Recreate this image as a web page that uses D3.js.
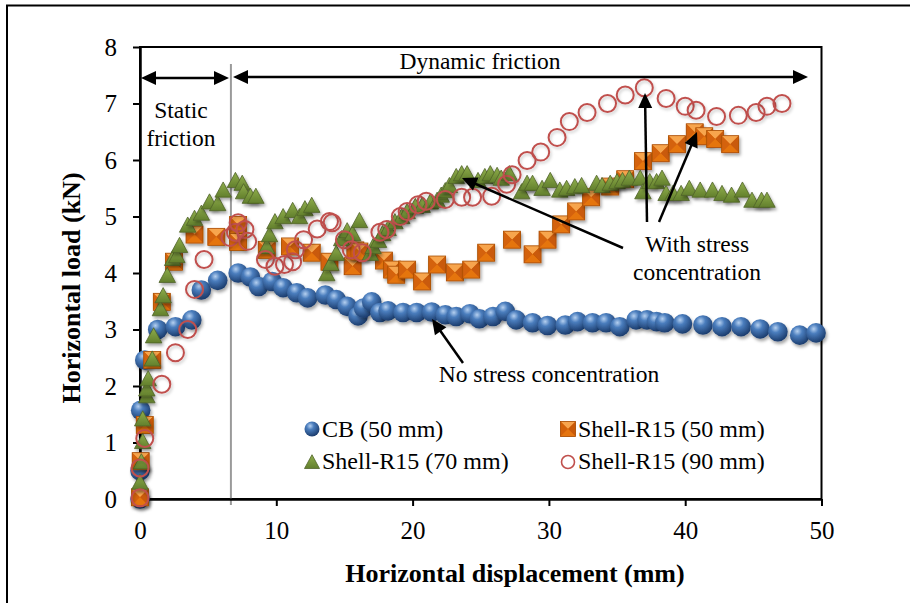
<!DOCTYPE html>
<html><head><meta charset="utf-8">
<script src="https://cdn.jsdelivr.net/npm/d3@7"></script>
<style>
html,body{margin:0;padding:0;background:#fff;}
text{font-family:"Liberation Serif","Times New Roman",serif;}
</style></head>
<body><svg id="c" width="910" height="603"></svg>
<script>
// ---- data ----
const xTicks = [0, 10, 20, 30, 40, 50];
const yTicks = [0, 1, 2, 3, 4, 5, 6, 7, 8];
const seriesNames = ["CB (50 mm)", "Shell-R15 (50 mm)", "Shell-R15 (70 mm)", "Shell-R15 (90 mm)"];

const cbX = [0,0,0.05,0.35,1.3,2.6,3.8,4.5,5.7,7.2,8.1,8.7,9.7,10.5,11.5,12.3,13.6,14.4,15.2,16.0,16.4,17.0,17.6,18.2,19.3,20.3,21.4,22.4,23.2,24.2,24.9,25.9,26.8,27.6,28.8,29.9,31.2,32.1,33.2,34.2,35.2,36.4,37.2,37.9,38.5,39.8,41.3,42.7,44.1,45.5,46.8,48.4,49.6];
const cbY = [0,0.5,1.57,2.46,3.0,3.05,3.17,3.7,3.87,4.0,3.93,3.76,3.85,3.74,3.65,3.56,3.61,3.53,3.41,3.24,3.38,3.49,3.3,3.33,3.3,3.3,3.31,3.26,3.23,3.28,3.19,3.23,3.32,3.17,3.12,3.07,3.08,3.14,3.12,3.12,3.05,3.17,3.17,3.14,3.12,3.1,3.08,3.05,3.05,3.01,2.96,2.9,2.94];

const s50X = [0,0.05,0.35,0.9,1.6,2.5,4.0,5.6,7.2,7.2,9.3,11.0,12.6,13.9,15.6,15.8,16.1,17.9,18.5,18.8,19.6,20.7,21.8,23.1,24.3,25.4,27.3,28.8,29.9,30.9,32.0,33.1,34.5,35.6,36.9,38.2,39.4,40.7,41.4,42.2,43.3];
const s50Y = [0.03,0.67,1.31,2.46,3.49,4.2,4.68,4.64,4.85,4.55,4.41,4.47,4.36,4.2,4.12,4.4,4.38,4.22,4.06,3.97,4.06,3.85,4.15,4.01,4.06,4.36,4.59,4.33,4.59,4.86,5.09,5.34,5.53,5.66,5.98,6.12,6.28,6.49,6.42,6.37,6.28];

const s70X = [0,0.1,0.2,0.2,0.5,0.5,0.6,0.9,1.0,1.5,1.7,2.0,2.4,2.7,2.9,3.5,4.0,4.5,5.1,5.7,6.1,7.0,7.5,7.6,8.1,8.5,9.3,9.5,9.9,10.5,11.2,11.7,12.1,12.6,13.7,14.0,14.4,14.8,15.2,15.6,16.1,16.9,17.1,17.5,17.8,18.2,18.7,19.2,19.6,20.2,20.7,21.3,21.8,22.1,22.4,22.7,23.2,23.6,24.0,24.8,25.3,25.7,26.2,26.5,27.1,28.0,28.4,28.8,29.5,30.1,30.8,31.3,31.9,32.4,33.5,33.9,34.5,35.0,35.4,35.9,36.7,36.9,37.4,37.9,38.3,38.6,39.1,39.7,40.3,41.1,42.0,42.7,43.4,44.2,44.9,45.6,46.0];
const s70Y = [0.28,0.64,1.0,1.4,1.81,1.93,2.11,2.46,2.87,3.35,3.58,3.94,4.24,4.29,4.47,4.83,4.95,5.04,5.24,5.21,5.45,5.62,5.57,5.42,5.34,5.34,4.45,4.66,4.89,4.98,5.09,4.98,5.12,5.18,3.97,4.15,4.33,4.59,4.73,4.68,4.91,4.33,4.45,4.56,4.68,4.77,4.89,4.98,5.07,5.16,5.18,5.24,5.27,5.36,5.44,5.53,5.69,5.74,5.74,5.62,5.69,5.74,5.71,5.66,5.74,5.42,5.57,5.57,5.48,5.62,5.45,5.48,5.51,5.53,5.57,5.53,5.57,5.6,5.62,5.66,5.66,5.42,5.6,5.6,5.66,5.39,5.39,5.39,5.48,5.45,5.45,5.39,5.36,5.45,5.27,5.27,5.27];

const s90X = [0,0,0.35,1.6,2.6,3.5,4.0,4.7,6.6,7.0,7.2,7.7,7.9,9.2,9.9,10.6,11.2,11.4,12.0,13.0,13.9,14.1,15.0,15.5,16.3,17.6,18.1,19.1,19.6,20.4,21.0,22.4,23.6,24.4,25.8,26.9,27.3,28.4,29.4,30.6,31.5,32.8,34.3,35.6,37.0,38.6,40.0,40.8,42.3,43.9,45.2,46.0,47.1];
const s90Y = [0.02,0.55,1.07,2.03,2.59,3.0,3.71,4.24,4.63,4.72,4.89,4.77,4.56,4.24,4.12,4.15,4.2,4.41,4.59,4.78,4.91,4.89,4.59,4.41,4.36,4.72,4.77,5.0,5.09,5.21,5.27,5.3,5.34,5.34,5.36,5.57,5.74,5.99,6.14,6.4,6.68,6.84,7.0,7.15,7.28,7.09,6.95,6.88,6.77,6.79,6.84,6.95,7.0];

// ---- setup ----
const svg = d3.select("#c");
const x = d3.scaleLinear().domain([0, 50]).range([140, 821.5]);
const y = d3.scaleLinear().domain([0, 8]).range([499, 47]);

const defs = svg.append("defs");
const sh = defs.append("filter").attr("id","shadow").attr("x","-50%").attr("y","-50%").attr("width","200%").attr("height","200%");
sh.append("feDropShadow").attr("dx",1.5).attr("dy",2.5).attr("stdDeviation",1.6).attr("flood-color","#000").attr("flood-opacity",0.35);
const sh2 = defs.append("filter").attr("id","shadow2").attr("x","-50%").attr("y","-50%").attr("width","200%").attr("height","200%");
sh2.append("feDropShadow").attr("dx",1.2).attr("dy",2).attr("stdDeviation",1.4).attr("flood-color","#000").attr("flood-opacity",0.22);

const rg = defs.append("radialGradient").attr("id","blueG").attr("cx","38%").attr("cy","30%").attr("r","70%");
rg.append("stop").attr("offset","0%").attr("stop-color","#b5d0f0");
rg.append("stop").attr("offset","35%").attr("stop-color","#4a7dbd");
rg.append("stop").attr("offset","100%").attr("stop-color","#1c3d6e");

const gg = defs.append("linearGradient").attr("id","greenG").attr("x1","0").attr("y1","0").attr("x2","0").attr("y2","1");
gg.append("stop").attr("offset","0%").attr("stop-color","#8fae4c");
gg.append("stop").attr("offset","100%").attr("stop-color","#627f2c");

// outer border (top & left visible)
svg.append("path").attr("d","M7,603 L7,5.5 L910,5.5").attr("fill","none").attr("stroke","#000").attr("stroke-width",2);

// plot frame
svg.append("rect").attr("x",x(0)).attr("y",y(8)).attr("width",x(50)-x(0)).attr("height",y(0)-y(8))
  .attr("fill","none").attr("stroke","#000").attr("stroke-width",2);

// gray divider line
svg.append("line").attr("x1",x(6.67)).attr("x2",x(6.67)).attr("y1",64).attr("y2",505)
  .attr("stroke","#9a9a9a").attr("stroke-width",2);

// axes
const ax = svg.append("g").attr("transform",`translate(0,${y(0)})`)
  .call(d3.axisBottom(x).tickValues(xTicks).tickSize(7).tickSizeOuter(0).tickPadding(15));
const ay = svg.append("g").attr("transform",`translate(${x(0)},0)`)
  .call(d3.axisLeft(y).tickValues(yTicks).tickSize(7).tickSizeOuter(0).tickPadding(16));
[ax, ay].forEach(a => {
  a.select(".domain").attr("stroke","#000").attr("stroke-width",2.5);
  a.selectAll(".tick line").attr("stroke","#000").attr("stroke-width",2);
  a.selectAll(".tick text").attr("fill","#000").style("font-family","'Liberation Serif',serif").style("font-size","25px");
});

// axis titles
svg.append("text").attr("x",515).attr("y",582).attr("text-anchor","middle")
  .style("font-size","26px").style("font-weight","bold").text("Horizontal displacement (mm)");
svg.append("text").attr("transform","translate(80,288) rotate(-90)").attr("text-anchor","middle")
  .style("font-size","26px").style("font-weight","bold").text("Horizontal load (kN)");

// ---- marker drawers ----
function drawSquare(g, cx, cy, s) {
  const h = s/2;
  const grp = g.append("g").attr("transform",`translate(${cx},${cy})`);
  grp.append("rect").attr("x",-h).attr("y",-h).attr("width",s).attr("height",s).attr("fill","#e06a0c");
  grp.append("path").attr("d",`M${-h},${-h}L${h},${-h}L0,0Z`).attr("fill","#f7a54e");
  grp.append("path").attr("d",`M${-h},${-h}L${-h},${h}L0,0Z`).attr("fill","#d4620a");
  grp.append("path").attr("d",`M${h},${-h}L${h},${h}L0,0Z`).attr("fill","#c95a08");
  grp.append("path").attr("d",`M${-h},${h}L${h},${h}L0,0Z`).attr("fill","#e57510");
  grp.append("rect").attr("x",-h).attr("y",-h).attr("width",s).attr("height",s).attr("fill","none").attr("stroke","#a94f07").attr("stroke-width",0.8);
  return grp;
}
function triPath(s){ const h = s*0.92; return `M0,${-h*0.6}L${s/2},${h*0.4}L${-s/2},${h*0.4}Z`; }

// ---- series ----
const gCB = svg.append("g");
d3.range(cbX.length).forEach(i => {
  gCB.append("circle").attr("cx",x(cbX[i])).attr("cy",y(cbY[i])).attr("r",9.8)
    .attr("fill","url(#blueG)").attr("filter","url(#shadow)");
});
const g50 = svg.append("g");
d3.range(s50X.length).forEach(i => {
  drawSquare(g50, x(s50X[i]), y(s50Y[i]), 17).attr("filter","url(#shadow)");
});
const g70 = svg.append("g");
d3.range(s70X.length).forEach(i => {
  g70.append("path").attr("d",triPath(16.5)).attr("transform",`translate(${x(s70X[i])},${y(s70Y[i])})`)
    .attr("fill","url(#greenG)").attr("stroke","#4f6228").attr("stroke-width",0.8).attr("filter","url(#shadow)");
});
const g90 = svg.append("g");
d3.range(s90X.length).forEach(i => {
  g90.append("circle").attr("cx",x(s90X[i])).attr("cy",y(s90Y[i])).attr("r",8.5)
    .attr("fill","none").attr("stroke","#c0504d").attr("stroke-width",2).attr("filter","url(#shadow2)");
});

// ---- legend ----
const lg = svg.append("g");
lg.append("circle").attr("cx",312).attr("cy",429).attr("r",7.5).attr("fill","url(#blueG)");
drawSquare(lg, 568, 429, 15);
lg.append("path").attr("d",triPath(15)).attr("transform","translate(312,463)").attr("fill","url(#greenG)").attr("stroke","#4f6228").attr("stroke-width",0.8);
lg.append("circle").attr("cx",568).attr("cy",462).attr("r",6.5).attr("fill","none").attr("stroke","#c0504d").attr("stroke-width",1.6);
const legPos = [[322,437],[578,437],[322,469],[578,469]];
seriesNames.forEach((n,i) => {
  lg.append("text").attr("x",legPos[i][0]).attr("y",legPos[i][1]).style("font-size","24px").text(n);
});

// ---- annotations ----
function arrowHead(x1,y1,x2,y2,len=15,w=7){
  const a = Math.atan2(y2-y1,x2-x1), c=Math.cos(a), s=Math.sin(a);
  const bx = x2 - len*c, by = y2 - len*s;
  return `M${x2},${y2}L${bx - w*s},${by + w*c}L${bx + w*s},${by - w*c}Z`;
}
function arrow(x1,y1,x2,y2,both){
  const a = Math.atan2(y2-y1,x2-x1), c=Math.cos(a), s=Math.sin(a);
  const sx = both ? x1 + 10*c : x1, sy = both ? y1 + 10*s : y1;
  svg.append("line").attr("x1",sx).attr("y1",sy).attr("x2",x2-10*c).attr("y2",y2-10*s)
    .attr("stroke","#000").attr("stroke-width",2.5);
  svg.append("path").attr("d",arrowHead(x1,y1,x2,y2)).attr("fill","#000");
  if (both) svg.append("path").attr("d",arrowHead(x2,y2,x1,y1)).attr("fill","#000");
}
arrow(141,78,229,78,true);
arrow(233,77,808,77,true);
arrow(623,248,462,178,false);
arrow(647,222,645,93,false);
arrow(659,222,697,132,false);
arrow(463,363,432,319,false);

const ann = [
  ["Static", 181, 118, "middle"],
  ["friction", 181, 146, "middle"],
  ["Dynamic friction", 480, 69, "middle"],
  ["With stress", 697, 252, "middle"],
  ["concentration", 697, 280, "middle"],
  ["No stress concentration", 549, 382, "middle"]
];
ann.forEach(a => svg.append("text").attr("x",a[1]).attr("y",a[2]).attr("text-anchor",a[3]).style("font-size","23.5px").text(a[0]));
</script></body></html>
